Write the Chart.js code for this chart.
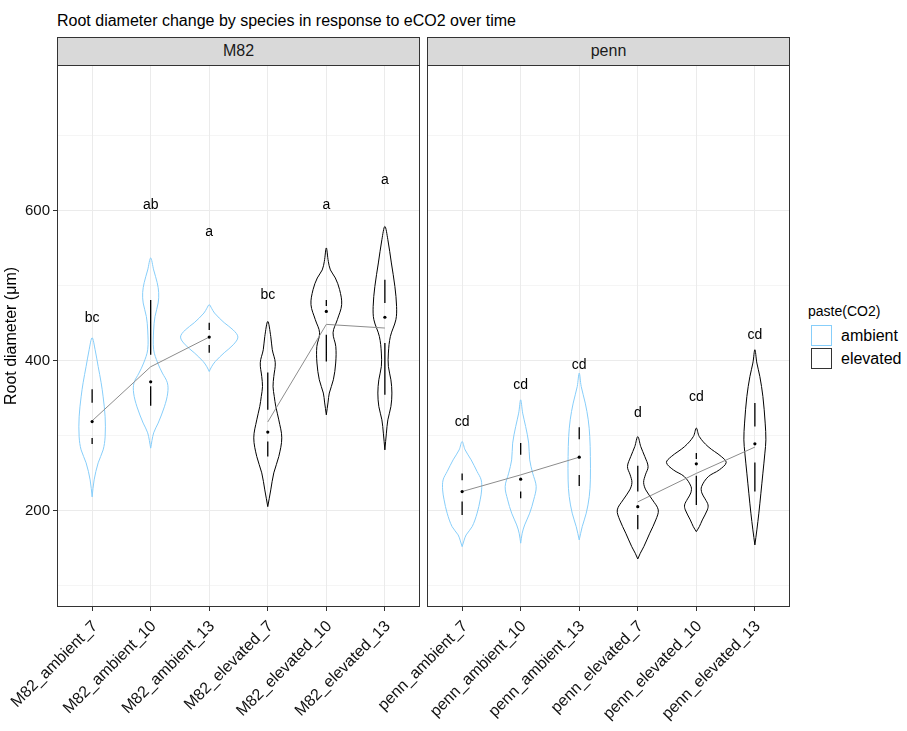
<!DOCTYPE html>
<html><head><meta charset="utf-8">
<script src="https://cdn.jsdelivr.net/npm/chart.js@4.4.1/dist/chart.umd.min.js"></script>
<style>
body{margin:0;background:#fff;font-family:"Liberation Sans",Arial,sans-serif;}
#wrap{position:relative;width:907px;height:731px;overflow:hidden;background:#fff;}
canvas{position:absolute;}
.strip{position:absolute;top:37px;height:29px;box-sizing:border-box;background:#d9d9d9;border:1px solid #333;text-align:center;font-size:16px;line-height:26px;color:#1a1a1a;z-index:2;}
#title{position:absolute;left:57px;top:12px;font-size:16px;line-height:18px;color:#000;white-space:nowrap;}
#legend{position:absolute;left:808px;top:303px;color:#000;}
#legend .lt{font-size:14px;line-height:16px;margin-bottom:6px;}
#legend .row{position:relative;height:23px;}
#legend .key{position:absolute;left:3px;top:0;width:21px;height:21px;box-sizing:border-box;background:#fff;}
#legend .lab{position:absolute;left:33px;top:2px;font-size:16px;line-height:18px;}
</style></head>
<body><div id="wrap">
<div id="title">Root diameter change by species in response to eCO2 over time</div>
<div class="strip" style="left:57px;width:363px;">M82</div>
<div class="strip" style="left:427px;width:363px;">penn</div>
<canvas id="cA" width="420" height="671" style="left:0;top:60px;"></canvas>
<canvas id="cB" width="430" height="671" style="left:360px;top:60px;"></canvas>
<div id="legend">
  <div class="lt">paste(CO2)</div>
  <div class="row"><div class="key" style="border:1px solid #87CEFA"></div><div class="lab">ambient</div></div>
  <div class="row"><div class="key" style="border:1px solid #333"></div><div class="lab">elevated</div></div>
</div>
</div>
<script>
// ---------- data ----------
const m82Labels  = ['M82_ambient_7','M82_ambient_10','M82_ambient_13','M82_elevated_7','M82_elevated_10','M82_elevated_13'];
const pennLabels = ['penn_ambient_7','penn_ambient_10','penn_ambient_13','penn_elevated_7','penn_elevated_10','penn_elevated_13'];
const co2Groups  = ['ambient','ambient','ambient','elevated','elevated','elevated'];

const yGridValues = [100,200,300,400,500,600,700];
const yTickLabels = [200,400,600];

// violin outlines: [root diameter (µm), half width (category units)]
const vM82_amb7  = [[218.7,0],[241.3,0.034],[264,0.103],[281.3,0.188],[298.7,0.222],[325.3,0.222],[352,0.188],[370.7,0.154],[392.4,0.103],[414.7,0.051],[430.7,0]];
const vM82_amb10 = [[283.6,0],[304,0.051],[317,0.128],[338.7,0.234],[357,0.291],[370.7,0.285],[383.6,0.2],[397,0.12],[414.7,0.051],[441,0.051],[459,0.074],[477,0.128],[490.7,0.137],[504,0.111],[521,0.051],[537,0]];
const vM82_amb13 = [[385.7,0],[392,0.04],[399,0.103],[410.7,0.256],[421.3,0.41],[431.6,0.49],[441,0.41],[450.7,0.256],[463.6,0.09],[470,0.04],[474.7,0]];
const vM82_ele7  = [[205.7,0],[228,0.051],[250.7,0.103],[272.4,0.188],[297.3,0.239],[321.3,0.188],[339,0.137],[352.4,0.111],[365.7,0.09],[379,0.103],[397.3,0.128],[414.7,0.077],[432.4,0.051],[452.4,0]];
const vM82_ele10 = [[328,0],[345,0.03],[357,0.051],[374.7,0.12],[397,0.16],[419,0.162],[437.3,0.115],[454.7,0.188],[474.7,0.262],[494.7,0.227],[510.3,0.154],[521,0.07],[532.4,0.034],[550.3,0]];
const vM82_ele13 = [[281.3,0],[303.6,0.026],[321.3,0.051],[339,0.103],[357,0.12],[374.7,0.103],[392.4,0.06],[410.3,0.06],[432.4,0.094],[454.7,0.188],[472.4,0.2],[499,0.171],[530.3,0.111],[561.3,0.051],[579,0]];
const vPenn_amb7  = [[152.4,0],[160,0.03],[168,0.068],[179,0.171],[197,0.256],[214.7,0.308],[228,0.333],[241.3,0.325],[252.4,0.256],[268,0.154],[281.3,0.051],[292.4,0]];
const vPenn_amb10 = [[157,0],[170.3,0.026],[181.3,0.068],[197,0.154],[214.7,0.222],[232.4,0.265],[250.3,0.205],[268,0.154],[290.3,0.137],[312.4,0.085],[330.3,0.034],[348,0]];
const vPenn_amb13 = [[161.3,0],[179,0.051],[197,0.12],[219,0.171],[241.3,0.19],[272.4,0.19],[299,0.18],[321.3,0.154],[343.6,0.103],[365.7,0.034],[383.6,0]];
const vPenn_ele7  = [[136,0],[143.6,0.043],[152.4,0.103],[170.3,0.205],[188,0.308],[201.3,0.35],[214.7,0.251],[228,0.137],[238,0.1],[248,0.13],[259,0.176],[272.4,0.12],[285.7,0.051],[299,0]];
const vPenn_ele10 = [[172.4,0],[179,0.051],[188,0.103],[201.3,0.188],[208,0.2],[216,0.15],[224,0.094],[232.4,0.09],[245.7,0.205],[254.7,0.393],[264.4,0.51],[272.4,0.427],[285.7,0.2],[299,0.051],[310.3,0]];
const vPenn_ele13 = [[154.7,0],[174.7,0.034],[197,0.068],[223.6,0.103],[250.3,0.137],[277,0.171],[294.7,0.188],[317,0.176],[352.4,0.137],[379,0.085],[397,0.034],[414.7,0]];

// summary marks (µm)
const m82WhiskLo  = [289,340,410.7,272.4,399,354.7];
const m82Q1       = [297,366,421,292.4,434.7,423.6];
const m82Median   = [319,372,431.6,305,465.7,458];
const m82Q3       = [344,408,441,334.7,473,477];
const m82WhiskHi  = [362,481,450.7,384.4,481,508];
const m82Mean     = [320,392,431.6,318.5,448.5,443.6];
const pennWhiskLo = [194.7,217,233.3,175.6,208,225.8];
const pennQ1      = [212.4,225.8,248,194.7,246.7,264.4];
const pennMedian  = [225.8,242.3,271.6,205.7,262.7,289.3];
const pennQ3      = [241,274.7,295.6,225.8,269,312.4];
const pennWhiskHi = [250,290.3,311.6,260,277,343.6];
const pennMean    = [225.8,248,271.6,212,250,285];

// significance letters and their heights (µm)
const m82Letters  = ['bc','ab','a','bc','a','a'];
const m82LetterY  = [456.9,606.7,570.7,487.3,607.3,640.7];
const pennLetters = ['cd','cd','cd','d','cd','cd'];
const pennLetterY = [318.3,366.9,393.7,329.7,351.3,434.3];

// ---------- styles ----------
const FONT = '"Liberation Sans", Arial, sans-serif';
const colorMap = {ambient:'#87CEFA', elevated:'#000000'};
Chart.defaults.font.family = FONT;

function violinPoints(cat, profile){
  const right = profile.map(([v,w]) => ({x: cat + w, y: v}));
  const left = profile.slice(0, -1).reverse().map(([v,w]) => ({x: cat - w, y: v}));
  return right.concat(left);
}
function segData(lo, q1, q3, hi){
  const d = [];
  lo.forEach((_, i) => {
    const c = i + 1;
    d.push({x:c,y:lo[i]},{x:c,y:q1[i]},{x:c,y:null},{x:c,y:q3[i]},{x:c,y:hi[i]},{x:c,y:null});
  });
  return d;
}
function meanData(m){
  return [{x:1,y:m[0]},{x:2,y:m[1]},{x:3,y:m[2]},{x:3.5,y:null},{x:4,y:m[3]},{x:5,y:m[4]},{x:6,y:m[5]}];
}

const panelBorder = {id:'panelBorder', afterDraw(chart){
  const {ctx, chartArea:a} = chart;
  ctx.save(); ctx.strokeStyle = '#333'; ctx.lineWidth = 1;
  ctx.strokeRect(Math.round(a.left)+0.5, Math.round(a.top)+0.5, Math.round(a.width)-1, Math.round(a.height)-1);
  ctx.restore();
}};
function lettersPlugin(letters, ys){
  return {id:'letters', afterDatasetsDraw(chart){
    const {ctx, scales:{x, y}} = chart;
    ctx.save(); ctx.font = '14px ' + FONT; ctx.fillStyle = '#000';
    ctx.textAlign = 'center'; ctx.textBaseline = 'middle';
    letters.forEach((t, i) => ctx.fillText(t, x.getPixelForValue(i+1), y.getPixelForValue(ys[i])));
    ctx.restore();
  }};
}

function makeChart(id, labels, violins, lo, q1, med, q3, hi, mean, letters, letterY, isLeft){
  const datasets = [];
  violins.forEach((prof, i) => datasets.push({
    type:'scatter', data: violinPoints(i+1, prof), showLine:true, fill:false,
    borderColor: colorMap[co2Groups[i]], borderWidth:1, pointRadius:0, pointHoverRadius:0, tension:0.35, order:4
  }));
  datasets.push({type:'scatter', data: segData(lo, q1, q3, hi), showLine:true, spanGaps:false,
    borderColor:'#000', borderWidth:1.3, pointRadius:0, pointHoverRadius:0, order:3});
  datasets.push({type:'scatter', data: meanData(mean), showLine:true, spanGaps:false,
    borderColor:'#8c8c8c', borderWidth:1, pointRadius:0, pointHoverRadius:0, order:2});
  datasets.push({type:'scatter', data: med.map((v,i)=>({x:i+1,y:v})), showLine:false,
    backgroundColor:'#000', borderWidth:0, pointRadius:1.6, pointHoverRadius:0, order:1});

  return new Chart(document.getElementById(id), {
    type:'scatter',
    data:{datasets},
    options:{
      responsive:false, animation:false, devicePixelRatio:1,
      layout:{autoPadding:false, padding:{top:5, left: isLeft ? 0 : 67, right:0, bottom:0}},
      plugins:{legend:{display:false}, tooltip:{enabled:false}},
      scales:{
        x:{type:'linear', min:0.4, max:6.6,
          afterBuildTicks: s => { s.ticks = labels.map((_, i) => ({value: i+1})); },
          afterFit: s => { s.height = 124; s.paddingLeft = 0; s.paddingRight = 0; },
          ticks:{autoSkip:false, minRotation:45, maxRotation:45, padding:6, labelOffset:3, color:'#111',
            font:{size:16}, callback: v => labels[Math.round(v)-1]},
          grid:{color:'#ebebeb', lineWidth:1, tickColor:'#333', tickLength:4, tickWidth:1},
          border:{display:false}
        },
        y:{type:'linear', min:72, max:794,
          afterBuildTicks: s => { s.ticks = yGridValues.map(v => ({value:v})); },
          afterFit: s => { s.width = isLeft ? 57 : 0; s.paddingTop = 0; s.paddingBottom = 0; },
          ticks:{display:isLeft, autoSkip:false, padding:3, color:'#111', font:{size:15},
            callback: v => yTickLabels.includes(v) ? String(v) : ''},
          grid:{color:'#ebebeb',
            lineWidth: c => yTickLabels.includes(c.tick && c.tick.value) ? 1 : 0.5,
            drawTicks:isLeft, tickLength:4, tickWidth:1,
            tickColor: c => yTickLabels.includes(c.tick && c.tick.value) ? '#333' : 'rgba(0,0,0,0)'},
          border:{display:false},
          title:{display:isLeft, text:'Root diameter (\u03bcm)', color:'#000', font:{size:16}, padding:{top:2, bottom:0}}
        }
      }
    },
    plugins:[panelBorder, lettersPlugin(letters, letterY)]
  });
}

makeChart('cA', m82Labels, [vM82_amb7,vM82_amb10,vM82_amb13,vM82_ele7,vM82_ele10,vM82_ele13],
  m82WhiskLo, m82Q1, m82Median, m82Q3, m82WhiskHi, m82Mean, m82Letters, m82LetterY, true);
makeChart('cB', pennLabels, [vPenn_amb7,vPenn_amb10,vPenn_amb13,vPenn_ele7,vPenn_ele10,vPenn_ele13],
  pennWhiskLo, pennQ1, pennMedian, pennQ3, pennWhiskHi, pennMean, pennLetters, pennLetterY, false);
</script>
</body></html>
